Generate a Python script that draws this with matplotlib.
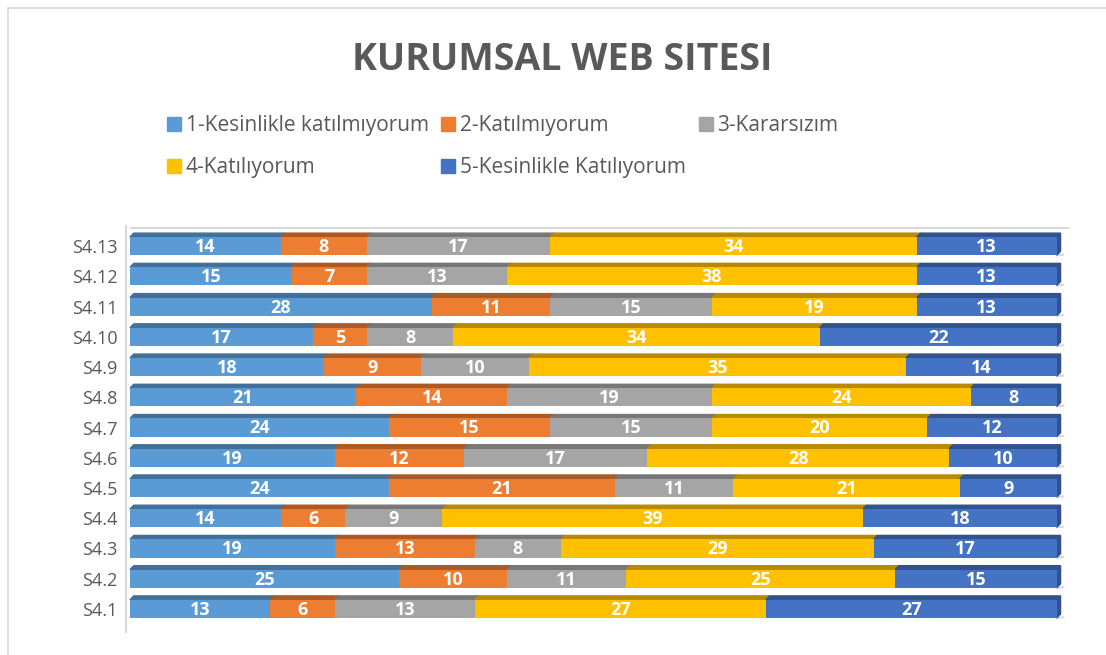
import numpy as np
import matplotlib.pyplot as plt
from matplotlib.patches import Polygon
from matplotlib.colors import to_rgb
from matplotlib.lines import Line2D

plt.rcParams['font.family'] = ['Open Sans', 'DejaVu Sans']

# data (bottom row first)
questions = ['S4.1', 'S4.2', 'S4.3', 'S4.4', 'S4.5', 'S4.6', 'S4.7',
             'S4.8', 'S4.9', 'S4.10', 'S4.11', 'S4.12', 'S4.13']
kesinlikle_katilmiyorum = [13, 25, 19, 14, 24, 19, 24, 21, 18, 17, 28, 15, 14]
katilmiyorum = [6, 10, 13, 6, 21, 12, 15, 14, 9, 5, 11, 7, 8]
kararsizim = [13, 11, 8, 9, 11, 17, 15, 19, 10, 8, 15, 13, 17]
katiliyorum = [27, 25, 29, 39, 21, 28, 20, 24, 35, 34, 19, 38, 34]
kesinlikle_katiliyorum = [27, 15, 17, 18, 9, 10, 12, 8, 14, 22, 13, 13, 13]

series_names = ['1-Kesinlikle katılmıyorum', '2-Katılmıyorum', '3-Kararsızım',
                '4-Katılıyorum', '5-Kesinlikle Katılıyorum']
series = [kesinlikle_katilmiyorum, katilmiyorum, kararsizim,
          katiliyorum, kesinlikle_katiliyorum]
colors = ['#5B9BD5', '#ED7D31', '#A5A5A5', '#FFC000', '#4472C4']

fig = plt.figure(figsize=(11.06, 6.55), dpi=100)
ax = fig.add_axes([0.1175, 0.0473, 0.838, 0.600])

y = np.arange(len(questions))
h = 0.6
dx, dy = 0.35, 0.13
left = np.zeros(len(questions))
total = np.sum(series, axis=0)

for vals, col in zip(series, colors):
    vals = np.array(vals, dtype=float)
    ax.barh(y, vals, left=left, height=h, color=col, zorder=3)
    dark = tuple(c * 0.72 for c in to_rgb(col))
    for yi, l, w in zip(y, left, vals):
        top = yi + h / 2
        ax.add_patch(Polygon([(l, top), (l + dx, top + dy), (l + w + dx, top + dy), (l + w, top)],
                             closed=True, color=dark, zorder=2, clip_on=False))
        ax.text(l + w / 2, yi - 0.03, f'{int(w)}', ha='center', va='center',
                color='white', fontsize=13, fontweight='bold', zorder=4)
    left += vals

# right side faces
dark_end = tuple(c * 0.72 for c in to_rgb(colors[-1]))
for yi, t in zip(y, total):
    ax.add_patch(Polygon([(t, yi - h / 2), (t + dx, yi - h / 2 + dy), (t + dx, yi + h / 2 + dy), (t, yi + h / 2)],
                         closed=True, color=dark_end, zorder=2, clip_on=False))
    ax.plot([t, t + 0.6], [yi - h / 2, yi - h / 2 + 0.02], color='#D9D9D9', lw=1.5, zorder=1, clip_on=False)

ax.set_xlim(0, 86)
ax.set_ylim(-0.5, len(questions) - 0.5)
ax.set_yticks(y)
ax.set_yticklabels(questions, fontsize=13, color='#595959')
ax.tick_params(axis='y', length=0, pad=9)
ax.set_xticks([])
for s in ax.spines.values():
    s.set_visible(False)

# back wall / floor lines
ax.plot([-0.4, -0.4], [-0.75, len(questions) - 0.35], color='#D9D9D9', lw=1.5, clip_on=False, zorder=1)
ax.plot([0.1, 87], [len(questions) - 0.4, len(questions) - 0.4], color='#D9D9D9', lw=1.5, clip_on=False, zorder=1)

fig.text(0.508, 0.916, 'KURUMSAL WEB SITESI', ha='center', va='center_baseline',
         fontsize=27, fontweight='bold', color='#595959')

handles = [Line2D([0], [0], marker='s', linestyle='', markersize=10, color=c) for c in colors]
order = [0, 3, 1, 4, 2]
fig.legend([handles[i] for i in order], [series_names[i] for i in order],
           loc='upper left', bbox_to_anchor=(0.134, 0.853), ncol=3, frameon=False,
           fontsize=15, labelcolor='#595959', handlelength=0.7, handletextpad=0.2,
           columnspacing=0.6, labelspacing=1.0)

# chart border
fig.patches.append(plt.Rectangle((0.007, -0.01), 1.0, 0.998, transform=fig.transFigure,
                                 fill=False, edgecolor='#D9D9D9', lw=1.2))

fig.savefig('out.png', dpi=100)
